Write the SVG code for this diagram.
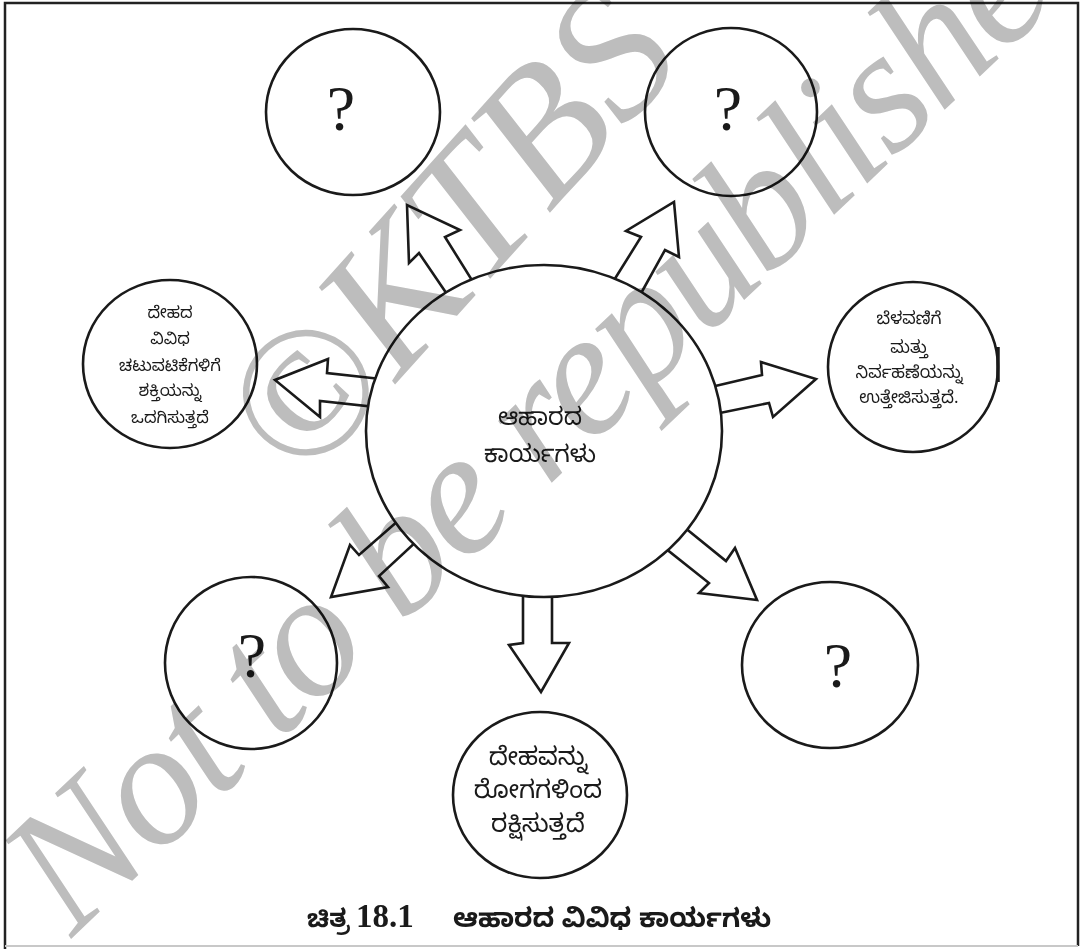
<svg xmlns="http://www.w3.org/2000/svg" width="1082" height="951" viewBox="0 0 1082 951">
  <style>
    .node { fill: #ffffff; stroke: #1a1a1a; stroke-width: 2.6; }
    .arrow { fill: #ffffff; stroke: #1a1a1a; stroke-width: 2.6; stroke-linejoin: miter; }
    .kn { font-family: "Noto Sans Kannada", "Noto Sans", "Noto Sans CJK SC", sans-serif; fill: #1a1a1a; text-anchor: middle; }
    .q { font-family: "Liberation Serif", serif; font-size: 64px; fill: #1a1a1a; text-anchor: middle; }
    .wm { font-family: "Liberation Serif", serif; font-style: italic; fill: #bdbdbd; }
    #watermark { mix-blend-mode: multiply; }
  </style>

  <rect x="0" y="0" width="1082" height="951" fill="#ffffff"/>

  <!-- frame -->
  <g id="frame" fill="none">
    <path d="M5,949 V3 H1078 V946" stroke="#222222" stroke-width="2.5"/>
    <path d="M5,946 H1078" stroke="#c8c8c8" stroke-width="2"/>
  </g>

  <!-- block arrows leaving the centre -->
  <g id="connectors">
    <polygon class="arrow" points="451,300 419,253 409,263 407,205 460,230 445,237 475,285"/>
    <polygon class="arrow" points="611,285 641,237 626,231 674,202 679,257 665,250 639,297"/>
    <polygon class="arrow" points="381,379 327,373 328,359 275,380 320,417 320,401 376,407"/>
    <polygon class="arrow" points="711,387 762,375 761,362 816,379 773,417 769,403 715,414"/>
    <polygon class="arrow" points="399,520 359,555 350,545 331,597 388,587 379,576 418,540"/>
    <polygon class="arrow" points="523,586 523,643 509,645 541,692 569,643 552,643 552,586"/>
    <polygon class="arrow" points="684,527 726,561 735,548 757,600 699,593 709,583 665,548"/>
  </g>

  <!-- centre -->
  <g id="node-centre">
    <ellipse class="node" cx="544" cy="431" rx="178" ry="166"/>
    <text class="kn" font-size="24" x="540" y="425">ಆಹಾರದ</text>
    <text class="kn" font-size="24" x="540" y="462">ಕಾರ್ಯಗಳು</text>
  </g>

  <g id="node-top-left">
    <ellipse class="node" cx="353" cy="112" rx="87" ry="83"/>
    <text class="q" x="341" y="130">?</text>
  </g>

  <g id="node-top-right">
    <ellipse class="node" cx="731" cy="112" rx="86" ry="84"/>
    <text class="q" x="728" y="130">?</text>
  </g>

  <g id="node-left">
    <ellipse class="node" cx="170" cy="364" rx="87" ry="84"/>
    <text class="kn" font-size="16.5" x="170" y="318">ದೇಹದ</text>
    <text class="kn" font-size="16.5" x="170" y="344">ವಿವಿಧ</text>
    <text class="kn" font-size="16.5" x="170" y="371">ಚಟುವಟಿಕೆಗಳಿಗೆ</text>
    <text class="kn" font-size="16.5" x="170" y="396">ಶಕ್ತಿಯನ್ನು</text>
    <text class="kn" font-size="16.5" x="170" y="423">ಒದಗಿಸುತ್ತದೆ</text>
  </g>

  <g id="node-right">
    <ellipse class="node" cx="913" cy="367" rx="85" ry="85"/>
    <path d="M998,347 L998,382" fill="none" stroke="#1a1a1a" stroke-width="3.5"/>
    <text class="kn" font-size="17" x="909" y="324">ಬೆಳವಣಿಗೆ</text>
    <text class="kn" font-size="17" x="909" y="353">ಮತ್ತು</text>
    <text class="kn" font-size="17" x="909" y="378">ನಿರ್ವಹಣೆಯನ್ನು</text>
    <text class="kn" font-size="17" x="909" y="403">ಉತ್ತೇಜಿಸುತ್ತದೆ.</text>
  </g>

  <g id="node-bottom-left">
    <ellipse class="node" cx="251" cy="663" rx="86" ry="86"/>
    <text class="q" x="252" y="677">?</text>
  </g>

  <g id="node-bottom-right">
    <ellipse class="node" cx="830" cy="665" rx="88" ry="83"/>
    <text class="q" x="838" y="687">?</text>
  </g>

  <g id="node-bottom">
    <ellipse class="node" cx="540" cy="795" rx="87" ry="83"/>
    <text class="kn" font-size="25" x="538" y="765">ದೇಹವನ್ನು</text>
    <text class="kn" font-size="25" x="538" y="798">ರೋಗಗಳಿಂದ</text>
    <text class="kn" font-size="25" x="538" y="832">ರಕ್ಷಿಸುತ್ತದೆ</text>
  </g>

  <!-- caption -->
  <g id="caption" font-weight="bold" fill="#1a1a1a">
    <text x="307" y="927" font-family="Noto Sans Kannada, Noto Sans, sans-serif" font-size="25">ಚಿತ್ರ</text>
    <text x="356" y="927" font-family="Liberation Serif, serif" font-size="33">18.1</text>
    <text x="453" y="927" font-family="Noto Sans Kannada, Noto Sans, sans-serif" font-size="26.5">ಆಹಾರದ ವಿವಿಧ ಕಾರ್ಯಗಳು</text>
  </g>

  <!-- watermark, multiplied over the drawing -->
  <g id="watermark">
    <text class="wm" font-size="186" transform="translate(302,488) rotate(-48)">©KTBS</text>
    <text class="wm" font-size="178" textLength="1445" lengthAdjust="spacing" transform="translate(72,938) rotate(-43.5)">Not to be republished</text>
  </g>
</svg>
